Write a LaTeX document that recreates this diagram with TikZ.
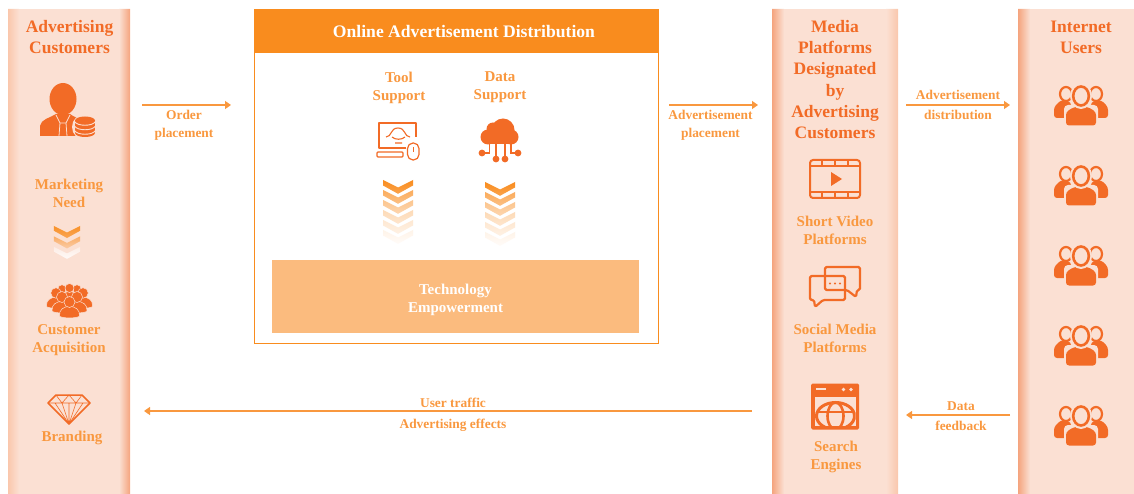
\documentclass[tikz,border=0pt]{standalone}
\usepackage{fontspec}
\setmainfont{Liberation Serif}
\usetikzlibrary{arrows.meta}
\definecolor{ora}{HTML}{F98C1E}
\definecolor{lab}{HTML}{F9983F}
\definecolor{ico}{HTML}{F26B26}
\definecolor{pbase}{HTML}{FBE0D3}
\definecolor{pdark}{HTML}{F5A47E}
\definecolor{plight}{HTML}{FAC7AC}
\definecolor{tech}{HTML}{FBBB7E}
\tikzset{
 x=1pt,y=-1pt,
 heading/.style={font=\fontsize{17.5}{21.2}\selectfont\bfseries,text=ico,align=center,inner sep=0pt},
 sublabel/.style={font=\fontsize{15}{18.3}\selectfont\bfseries,text=lab,align=center,inner sep=0pt},
 arrowlabel/.style={font=\fontsize{13.4}{17.5}\selectfont\bfseries,text=lab,align=center,inner sep=0pt},
 flow/.style={draw=lab,line width=1.3pt,-{Triangle[length=6pt,width=8pt]}},
 pics/chev/.style 2 args={code={
  \shade[top color=ora!#1!white,bottom color=ora!#2!white] (-15,0) -- (0,7.5) -- (15,0) -- (15,5.5) -- (0,13.8) -- (-15,5.5) -- cycle;}},
 pics/usersicon/.style={code={
  \fill[ico,rounded corners=3pt] (-27,13) -- (-27,2) -- (-20,-5) -- (-10,-3) -- (-10,13) -- cycle;
  \fill[ico,rounded corners=3pt] (27,13) -- (27,2) -- (20,-5) -- (10,-3) -- (10,13) -- cycle;
  \draw[ico,line width=2.2pt] (-15,-11) ellipse[x radius=6,y radius=7];
  \draw[ico,line width=2.2pt] (15,-11) ellipse[x radius=6,y radius=7];
  \fill[pbase,rounded corners=4pt] (-17,22) -- (-17,0) -- (17,0) -- (17,22) -- cycle;
  \fill[ico,rounded corners=3pt] (-15,20.5) -- (-15,7) -- (-7,2) -- (7,2) -- (15,7) -- (15,20.5) -- cycle;
  \fill[pbase] (0,-9) ellipse[x radius=11,y radius=13];
  \draw[ico,line width=2.6pt] (0,-9) ellipse[x radius=7.8,y radius=9.5];
 }},
 pics/minip/.style={code={
  \fill[ico,draw=pbase,line width=.5pt] (-9,13) .. controls (-11,1) and (11,1) .. (9,13) .. controls (6,15) and (-6,15) .. (-9,13) -- cycle;
  \fill[ico,draw=pbase,line width=.5pt] (0,0) circle[radius=5];
 }},
}
\begin{document}
\begin{tikzpicture}
\useasboundingbox (0,0) rectangle (1134,494);
% panels
\begin{scope}
\clip (8,9) rectangle (130,494) (772,9) rectangle (898,494) (1018,9) rectangle (1134,494);
\fill[pbase] (8,9) rectangle (130,494);
\shade[left color=plight,right color=pbase] (8,0) rectangle (19,494);
\shade[left color=pbase,right color=pdark] (119,0) rectangle (130,494);
\fill[pbase] (772,9) rectangle (898,494);
\shade[left color=pdark,right color=pbase] (772,0) rectangle (784,494);
\shade[left color=pbase,right color=plight] (886,0) rectangle (898,494);
\fill[pbase] (1018,9) rectangle (1134,494);
\shade[left color=pdark,right color=pbase] (1018,0) rectangle (1030,494);
\end{scope}
% centre box
\node[draw=ora,line width=1.4pt,fill=white,minimum width=404pt,minimum height=334pt,inner sep=0pt,anchor=north west] (mainbox) at (254,9) {};
\fill[ora] (254,9) rectangle (658,53);
\node[font=\fontsize{17.6}{20}\selectfont\bfseries,text=white,inner sep=0pt] (maintitle) at (464,31.5) {Online Advertisement Distribution};
\node[fill=tech,minimum width=367pt,minimum height=73pt,inner sep=0pt] (techbox) at (455.5,296.5) {};
\node[font=\fontsize{15}{18.3}\selectfont\bfseries,text=white,align=center,inner sep=0pt] (techtext) at (455.5,300) {Technology\\Empowerment};
% headings
\node[heading] (h1) at (69.5,37) {Advertising\\Customers};
\node[heading] (h2) at (835,79.5) {Media\\Platforms\\Designated\\by\\Advertising\\Customers};
\node[heading] (h3) at (1081,37) {Internet\\Users};
% left labels
\node[sublabel] (l1) at (69,193.5) {Marketing\\Need};
\node[sublabel] (l2) at (69,340) {Customer\\Acquisition};
\node[sublabel] (l3) at (72,437.5) {Branding};
% centre labels
\node[sublabel] (c1) at (399,88) {Tool\\Support};
\node[sublabel] (c2) at (500,87) {Data\\Support};
% media labels
\node[sublabel] (m1) at (835,230.5) {Short Video\\Platforms};
\node[sublabel] (m2) at (835,338.5) {Social Media\\Platforms};
\node[sublabel] (m3) at (836,457) {Search\\Engines};
% chevrons
\foreach \i/\c/\d in {0/100/80,1/72/55,2/50/36,3/32/22,4/20/12,5/10/3}{
 \pic at (398,180+10*\i) {chev={\c}{\d}};
 \pic at (500,182+10*\i) {chev={\c}{\d}};
}
\begin{scope}[shift={(67,226)},scale=0.87]
\shade[top color=ora!95!white,bottom color=ora!70!pbase] (-15,0) -- (0,7.5) -- (15,0) -- (15,5.5) -- (0,13.8) -- (-15,5.5) -- cycle;
\shade[top color=ora!60!pbase,bottom color=ora!25!pbase] (-15,12) -- (0,19.5) -- (15,12) -- (15,17.5) -- (0,25.8) -- (-15,17.5) -- cycle;
\shade[top color=white!40!pbase,bottom color=white!85!pbase] (-15,24) -- (0,31.5) -- (15,24) -- (15,29.5) -- (0,37.8) -- (-15,29.5) -- cycle;
\end{scope}
% person with coins
\fill[ico] (40,136) -- (40,126) .. controls (41,119) and (50,118) .. (56,114) -- (70,114) .. controls (74,117) and (78,118) .. (82,120) -- (76,136) -- cycle;
\fill[ico] (63,99) ellipse[x radius=13.5,y radius=16];
\draw[pbase,line width=0.8pt] (56,115) -- (60,123) -- (66,123) -- (70,115);
\draw[pbase,line width=0.8pt] (60,123) -- (59,136) (66,123) -- (67,136);
\fill[pbase] (85,127) ellipse[x radius=13,y radius=13];
\fill[ico] (85,120.5) ellipse[x radius=10,y radius=4];
\fill[ico] (85,133) ellipse[x radius=10,y radius=4];
\fill[ico] (75,120.5) rectangle (95,133);
\foreach \yy in {121.5,126,130.5}{
 \draw[pbase,line width=.9pt] (74.5,\yy) .. controls (77,\yy+5) and (93,\yy+5) .. (95.5,\yy);
}
% customer group
\foreach \px/\py/\ss in {62/289/.85,77/289/.85,69.5/288/.9,56/293/1.05,83/293/1.05,62/297/1.1,77/297/1.1}{
 \pic[scale=\ss] at (\px,\py) {minip};
}
\pic[scale=1.1] (cg) at (69.5,302) {minip};
% diamond
\draw[ico,line width=1.5pt,line join=round] (48,403) -- (56,395) -- (82,395) -- (90,403) -- (69,424) -- cycle;
\draw[ico,line width=.6pt] (48,403) -- (90,403) (56,395) -- (62,403) -- (69,395) -- (76,403) -- (82,395)
 (62,403) -- (69,424) -- (76,403) (55,403) -- (69,424) -- (83,403) (69,403) -- (69,424);
% tool icon
\draw[ico,line width=1.2pt,line join=round] (416,137) -- (416,123) -- (379,123) -- (379,148) -- (406,148);
\draw[ico,line width=1.2pt,rounded corners=1pt] (377,152) rectangle (403,157);
\draw[ico,line width=1.1pt] (386,137) .. controls (392,137) and (390,128) .. (398,128) .. controls (406,128) and (404,137) .. (410,137) (392,137) .. controls (395,140) and (402,140) .. (405,137) (395,143) -- (402,143);
\draw[ico,line width=1.2pt,rounded corners=5.5pt] (407.5,143) rectangle (419,160);
\draw[ico,line width=1.2pt] (413.2,147) -- (413.2,152);
% cloud icon
\fill[ico] (488,137) circle[radius=7.5];
\fill[ico] (493,129) circle[radius=6.5];
\fill[ico] (503,130) circle[radius=11.5];
\fill[ico] (511,137) circle[radius=7.5];
\fill[ico] (489,133) rectangle (511,144.5);
\draw[ico,line width=1.2pt] (489.5,144) -- (489.5,153) -- (482,153) (496,144) -- (496,159) (505,144) -- (505,159) (511,144) -- (511,153) -- (518,153);
\foreach \cx/\cy in {482/153,518/153,496/159,505/159}{\fill[ico] (\cx,\cy) circle[radius=3.4];}
% video icon
\draw[ico,line width=2pt,rounded corners=3pt] (810,160) rectangle (860,198);
\draw[ico,line width=1.8pt] (810,166) -- (860,166) (810,192) -- (860,192)
 (822,160) -- (822,166) (835,160) -- (835,166) (848,160) -- (848,166)
 (822,192) -- (822,198) (835,192) -- (835,198) (848,192) -- (848,198);
\fill[ico] (831,172) -- (842,179) -- (831,186) -- cycle;
% chat icon
\draw[ico,line width=2.2pt,line join=round,rounded corners=1.5pt] (810,276) -- (845,276) -- (845,300) -- (823,300) -- (815,307) -- (814,300) -- (810,300) -- cycle;
\draw[ico,line width=2.2pt,line join=round,rounded corners=1.5pt] (825,267) -- (860,267) -- (860,290) -- (857,290) -- (856,297) -- (847,290) -- (825,290) -- cycle;
\foreach \dx in {830,835,840}{\fill[ico] (\dx,283.5) circle[radius=1.05];}
% browser icon
\fill[ico,rounded corners=1.5pt] (811,383.5) rectangle (859,429.5);
\fill[pbase] (814.5,396.5) rectangle (855.5,425.5);
\fill[pbase] (816,388) rectangle (826,390);
\fill[pbase] (843.5,389.5) circle[radius=1.8];
\fill[pbase] (851,389.5) circle[radius=1.8];
\begin{scope}
\clip (814.5,396.5) rectangle (855.5,426);
\draw[ico,line width=3pt] (835.5,416) ellipse[x radius=19,y radius=13.5];
\draw[ico,line width=2.6pt] (835.5,416) ellipse[x radius=8,y radius=13.5];
\draw[ico,line width=2.6pt] (816,412) -- (855,412);
\end{scope}
% users
\foreach \uy [count=\k] in {105,185,265,345,425}{ \pic (u\k) at (1081,\uy) {usersicon}; }
% arrows
\coordinate (a1s) at (142,105); \coordinate (a1e) at (231,105);
\coordinate (a2s) at (669,105); \coordinate (a2e) at (758,105);
\coordinate (a3s) at (906,105); \coordinate (a3e) at (1010,105);
\coordinate (a4s) at (1010,415); \coordinate (a4e) at (906,415);
\coordinate (a5s) at (752,411); \coordinate (a5e) at (144,411);
\draw[flow] (a1s) -- (a1e);
\draw[flow] (a2s) -- (a2e);
\draw[flow] (a3s) -- (a3e);
\draw[flow] (a4s) -- (a4e);
\draw[flow] (a5s) -- (a5e);
\node[arrowlabel] (t1) at (184,125.5) {Order\\placement};
\node[arrowlabel] (t2) at (710.5,125.5) {Advertisement\\placement};
\node[arrowlabel] (t3) at (958,95) {Advertisement};
\node[arrowlabel] (t4) at (958,115) {distribution};
\node[arrowlabel] (t5) at (961,406) {Data};
\node[arrowlabel] (t6) at (961,426) {feedback};
\node[arrowlabel] (t7) at (453,403) {User traffic};
\node[arrowlabel] (t8) at (453,425) {Advertising effects};
\end{tikzpicture}
\end{document}
